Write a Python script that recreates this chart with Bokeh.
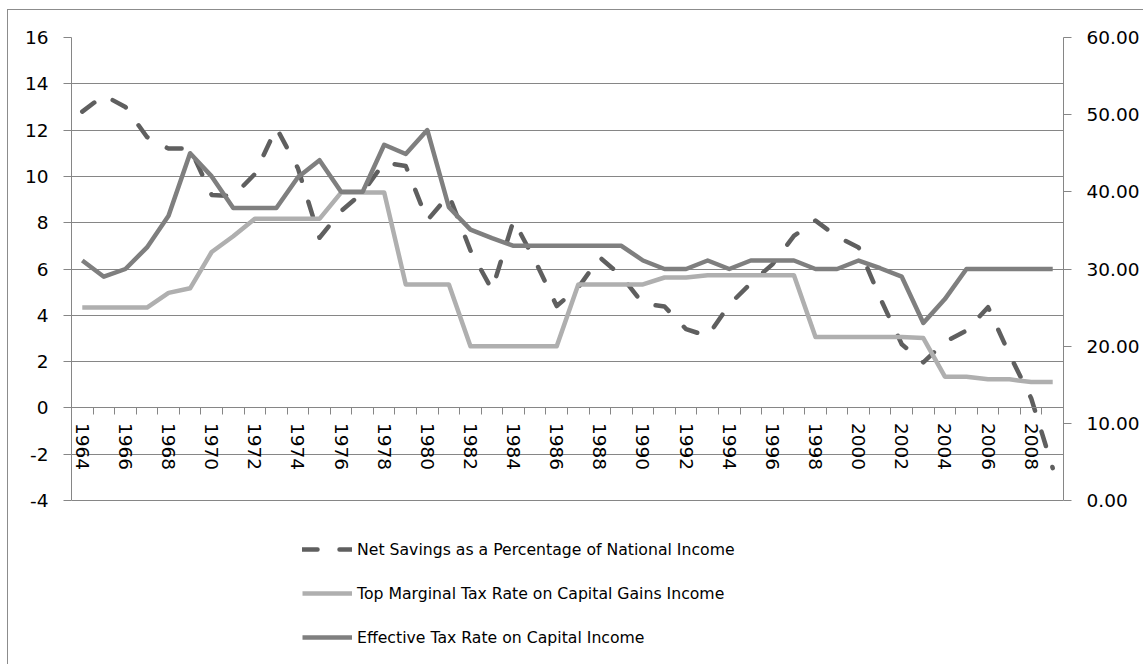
from bokeh.plotting import figure
from bokeh.models import (Range1d, LinearAxis, FixedTicker, PrintfTickFormatter,
                          Legend, LegendItem, ColumnDataSource)
from bokeh.embed import file_html
from bokeh.resources import INLINE

# ---------------- data ----------------
years = [1964, 1965, 1966, 1967, 1968, 1969, 1970, 1971, 1972, 1973,
         1974, 1975, 1976, 1977, 1978, 1979, 1980, 1981, 1982, 1983,
         1984, 1985, 1986, 1987, 1988, 1989, 1990, 1991, 1992, 1993,
         1994, 1995, 1996, 1997, 1998, 1999, 2000, 2001, 2002, 2003,
         2004, 2005, 2006, 2007, 2008, 2009]

net_savings = [12.8, 13.5, 13.0, 11.7, 11.2, 11.2, 9.2, 9.15, 10.1, 12.1,
               10.35, 7.35, 8.5, 9.3, 10.6, 10.45, 8.1, 9.2, 6.8, 5.1,
               8.1, 6.35, 4.4, 5.2, 6.5, 5.7, 4.5, 4.38, 3.4, 3.1,
               4.46, 5.38, 6.2, 7.43, 8.09, 7.4, 6.93, 4.74, 2.75, 1.97,
               2.85, 3.34, 4.35, 2.3, 0.42, -2.6]

top_marginal_cg = [25.0, 25.0, 25.0, 25.0, 26.9, 27.5, 32.2, 34.25, 36.5, 36.5,
                   36.5, 36.5, 39.9, 39.9, 39.9, 28.0, 28.0, 28.0, 20.0, 20.0,
                   20.0, 20.0, 20.0, 28.0, 28.0, 28.0, 28.0, 28.9, 28.9, 29.2,
                   29.2, 29.2, 29.2, 29.2, 21.2, 21.2, 21.2, 21.2, 21.2, 21.05,
                   16.05, 16.05, 15.7, 15.7, 15.35, 15.35]

effective_rate = [31.1, 29.0, 30.0, 32.8, 36.9, 45.0, 42.0, 37.9, 37.9, 37.9,
                  41.9, 44.1, 40.0, 40.0, 46.1, 44.9, 48.0, 38.0, 35.1, 34.0,
                  33.0, 33.0, 33.0, 33.0, 33.0, 33.0, 31.1, 30.0, 30.0, 31.1,
                  30.0, 31.1, 31.1, 31.1, 30.0, 30.0, 31.1, 30.1, 29.0, 23.0,
                  26.1, 30.0, 30.0, 30.0, 30.0, 30.0]

series_names = ["Net Savings as a Percentage of National Income",
                "Top Marginal Tax Rate on Capital Gains Income",
                "Effective Tax Rate on Capital Income"]

left_ticks = [-4, -2, 0, 2, 4, 6, 8, 10, 12, 14, 16]
right_ticks = [0, 10, 20, 30, 40, 50, 60]
year_labels = [1964, 1966, 1968, 1970, 1972, 1974, 1976, 1978, 1980, 1982,
               1984, 1986, 1988, 1990, 1992, 1994, 1996, 1998, 2000, 2002,
               2004, 2006, 2008]

# ---------------- layout / styling ----------------
FONT = "DejaVu Sans"
GRID = "#868686"
C_NET = "#5f5f5f"
C_TOP = "#afafaf"
C_EFF = "#7f7f7f"

W, H = 1136, 655            # canvas size (page offset 8,10 by css margin + border)
FRAME_L, FRAME_T = 63, 27    # frame position inside canvas
AXIS_PX = 463                # pixel height of the value area (-4..16)
FRAME_PX = 620               # frame extends below the value area to host the legend
FRAME_W = 992

lo, hi = left_ticks[0], left_ticks[-1]
left_lo = hi - (hi - lo) * FRAME_PX / AXIS_PX
scale_r = (right_ticks[-1] - right_ticks[0]) / (hi - lo)
right_lo = right_ticks[0] + (left_lo - lo) * scale_r

source = ColumnDataSource(dict(year=years, net=net_savings, top=top_marginal_cg, eff=effective_rate))

p = figure(width=W, height=H, output_backend="svg", toolbar_location=None,
           x_range=Range1d(years[0] - 0.5, years[-1] + 0.5),
           y_range=Range1d(left_lo, hi),
           x_axis_type=None,
           min_border_left=FRAME_L, min_border_top=FRAME_T,
           min_border_right=W - FRAME_L - FRAME_W,
           min_border_bottom=H - FRAME_T - FRAME_PX)
p.styles = {"border-left": "1px solid #8c8c8c", "border-top": "1px solid #8c8c8c",
            "margin-left": "7px", "margin-top": "9px"}
p.outline_line_color = None
p.background_fill_color = "white"
p.border_fill_color = "white"

p.extra_y_ranges = {"right": Range1d(right_lo, right_ticks[-1])}

# left axis
ya = p.yaxis[0]
ya.ticker = FixedTicker(ticks=left_ticks)
ya.formatter = PrintfTickFormatter(format="%d")
ya.bounds = (lo, hi)
ya.axis_line_color = GRID
ya.major_tick_line_color = GRID
ya.major_tick_out = 8
ya.major_tick_in = 0
ya.minor_tick_line_color = None
ya.major_label_standoff = 15
ya.major_label_text_font = FONT
ya.major_label_text_font_size = "18.5px"
ya.major_label_text_color = "black"

# right axis
ra = LinearAxis(y_range_name="right", ticker=FixedTicker(ticks=right_ticks),
                formatter=PrintfTickFormatter(format="%.2f"),
                bounds=(right_ticks[0], right_ticks[-1]))
ra.axis_line_color = GRID
ra.major_tick_line_color = GRID
ra.major_tick_out = 8
ra.major_tick_in = 0
ra.minor_tick_line_color = None
ra.major_label_standoff = 15
ra.major_label_text_font = FONT
ra.major_label_text_font_size = "18.5px"
ra.major_label_text_color = "black"
p.add_layout(ra, "right")

# grid
p.ygrid.ticker = FixedTicker(ticks=left_ticks)
p.ygrid.grid_line_color = GRID
p.ygrid.grid_line_width = 1
p.xgrid.visible = False

# x axis (category boundary ticks) at y = 0
bounds = [y - 0.5 for y in years] + [years[-1] + 0.5]
xt = LinearAxis(ticker=FixedTicker(ticks=bounds), fixed_location=0)
xt.axis_line_color = GRID
xt.major_tick_line_color = GRID
xt.major_tick_out = 7
xt.major_tick_in = 0
xt.minor_tick_line_color = None
xt.major_label_text_color = None
xt.major_label_text_font_size = "1px"
p.add_layout(xt, "below")

# x labels at category centres
xl = LinearAxis(ticker=FixedTicker(ticks=year_labels), fixed_location=0,
                formatter=PrintfTickFormatter(format="%d"))
xl.axis_line_color = None
xl.major_tick_line_color = None
xl.minor_tick_line_color = None
xl.major_tick_out = 0
xl.major_tick_in = 0
xl.major_label_standoff = 15
xl.major_label_orientation = "vertical"
xl.major_label_text_font = FONT
xl.major_label_text_font_size = "18.5px"
xl.major_label_text_color = "black"
p.add_layout(xl, "below")

# series
r_net = p.line("year", "net", source=source, line_color=C_NET, line_width=4.5,
               line_dash="15 22", line_cap="round", line_join="round")
r_top = p.line("year", "top", source=source, y_range_name="right", line_color=C_TOP,
               line_width=4.5, line_join="round")
r_eff = p.line("year", "eff", source=source, y_range_name="right", line_color=C_EFF,
               line_width=4.5, line_join="round")

legend = Legend(items=[LegendItem(label=series_names[0], renderers=[r_net]),
                       LegendItem(label=series_names[1], renderers=[r_top]),
                       LegendItem(label=series_names[2], renderers=[r_eff])],
                location=(231, 10), orientation="vertical",
                glyph_width=50, glyph_height=20, label_height=20, spacing=24,
                label_standoff=5, padding=0, margin=0,
                border_line_color=None, background_fill_alpha=0,
                label_text_font=FONT, label_text_font_size="15.7px",
                label_text_color="black")
p.add_layout(legend, "center")

open("out.html", "w").write(file_html(p, INLINE))
